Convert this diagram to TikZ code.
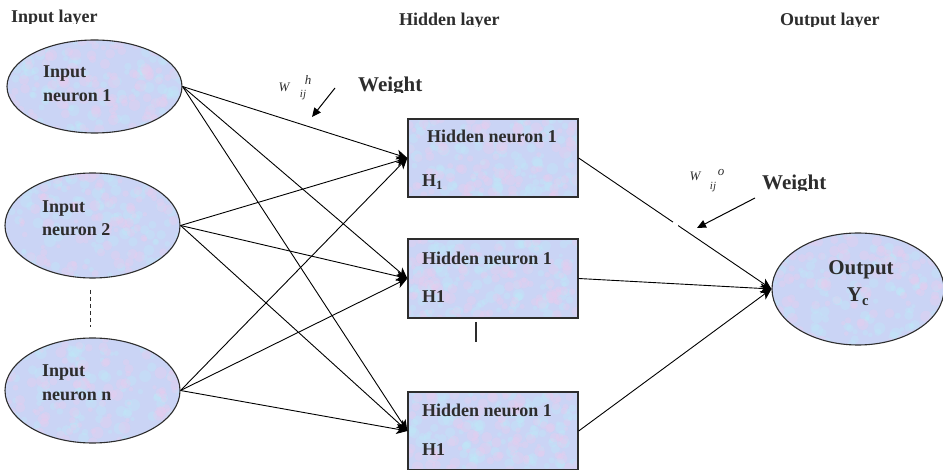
\documentclass[tikz,border=0pt]{standalone}
\usepackage{fontspec}
\setmainfont{Liberation Serif}
\usetikzlibrary{arrows.meta,shapes.geometric,calc}
\definecolor{tissue}{RGB}{202,212,245}
\definecolor{tpink}{RGB}{234,204,238}
\definecolor{tcyan}{RGB}{190,234,248}
\definecolor{ink}{RGB}{45,45,45}
\pgfmathsetseed{7}
\begin{document}
\begin{tikzpicture}[x=1pt,y=-1pt,
  % mottled paper fill for the neurons
  mottled/.style={fill=tissue,
    path picture={
      \path (path picture bounding box.south west) coordinate (tsw)
            (path picture bounding box.north east) coordinate (tne);
      \foreach \k in {1,...,110}{
        \path let \p1=(tsw), \p2=(tne) in
          [fill=tcyan,opacity=0.35]
          ({\x1+rnd*(\x2-\x1)},{\y1+rnd*(\y2-\y1)}) circle[radius={2pt+rnd*4pt}];
      }
      \foreach \k in {1,...,110}{
        \path let \p1=(tsw), \p2=(tne) in
          [fill=tpink,opacity=0.35]
          ({\x1+rnd*(\x2-\x1)},{\y1+rnd*(\y2-\y1)}) circle[radius={2pt+rnd*4pt}];
      }
    }},
  neuron/.style={ellipse,draw=ink,line width=1.1pt,mottled,inner sep=0pt},
  hidbox/.style={rectangle,draw=ink,line width=1.3pt,mottled,
    minimum width=170pt,minimum height=78pt,inner sep=0pt},
  txt/.style={font=\fontsize{18}{21}\bfseries\selectfont,inner sep=0pt,
    anchor=base west,text=ink},
  bigtxt/.style={font=\fontsize{21}{24}\bfseries\selectfont,inner sep=0pt,
    anchor=base west,text=ink},
  sym/.style={font=\fontsize{13}{15}\itshape\selectfont,inner sep=0pt,text=ink},
  conn/.style={draw=black,line width=0.9pt,-{Stealth[length=11pt,width=10pt,inset=3pt]}},
  pointer/.style={draw=black,line width=1pt,-{Triangle[length=9pt,width=8pt]}}
]
\useasboundingbox (0,0) rectangle (943,470);

% layer titles (clipped at the baseline)
\begin{scope}
  \clip (0,0) rectangle (943,24);
  \node[txt] (tin) at (11,23) {Input layer};
\end{scope}
\begin{scope}
  \clip (0,0) rectangle (943,27);
  \node[txt] (thid) at (399,26) {Hidden layer};
  \node[txt] (tout) at (780,26) {Output layer};
\end{scope}

% input neurons
\node[neuron,minimum width=175pt,minimum height=93pt] (in1) at (94.5,86.5) {};
\node[neuron,minimum width=175pt,minimum height=105pt] (in2) at (92.5,225.5) {};
\node[neuron,minimum width=175pt,minimum height=105pt] (inn) at (92.5,390.5) {};
\node[txt] (in1a) at (43,78) {Input};
\node[txt] (in1b) at (43,102) {neuron 1};
\node[txt] (in2a) at (42,213) {Input};
\node[txt] (in2b) at (42,236) {neuron 2};
\node[txt] (inna) at (42,377) {Input};
\node[txt] (innb) at (42,400) {neuron n};
\draw[ink,line width=1pt,dash pattern=on 4pt off 3pt] (90,290) -- (90,327);

% hidden neurons
\node[hidbox] (h1) at (493,158) {};
\node[hidbox,minimum height=79pt] (h2) at (493,278.5) {};
\node[hidbox] (h3) at (493,431) {};
\node[txt] (h1a) at (427,143) {Hidden neuron 1};
\node[txt] (h1b) at (422,187) {H\textsubscript{1}};
\node[txt] (h2a) at (422,265) {Hidden neuron 1};
\node[txt] (h2b) at (422,303) {H1};
\node[txt] (h3a) at (422,417) {Hidden neuron 1};
\node[txt] (h3b) at (422,455) {H1};
\draw[ink,line width=1.2pt] (476,322) -- (476,342);

% output neuron
\node[neuron,minimum width=172pt,minimum height=112pt] (out) at (858,289) {};
\node[bigtxt,anchor=base] (outa) at (861,275) {Output};
\node[bigtxt,anchor=base] (outb) at (858,302) {Y\textsubscript{c}};

% input -> hidden connections
\foreach \i in {in1,in2,inn}
  \foreach \h in {h1,h2,h3}
    \draw[conn] (\i.east) -- (\h.west);

% hidden -> output connections
\foreach \h in {h1,h2,h3}
  \draw[conn] (\h.east) -- (out.west);
\path (h1.east) -- (out.west) coordinate[pos=0.49] (g1) coordinate[pos=0.515] (g2);
\draw[white,line width=2.5pt] (g1) -- (g2);

% weight annotations
\node[sym] (w1) at (284,87) {W};
\node[sym,font=\fontsize{11}{12}\itshape\selectfont] (w1ij) at (303,95) {ij};
\node[sym] (w1h) at (308,80) {h};
\begin{scope}
  \clip (0,0) rectangle (943,93);
  \node[bigtxt] (wt1) at (358,92) {Weight};
\end{scope}
\coordinate (p1s) at (335,88);
\coordinate (p1t) at (312,117);
\draw[pointer] (p1s) -- (p1t);

\node[sym] (w2) at (695,176) {W};
\node[sym,font=\fontsize{11}{12}\itshape\selectfont] (w2ij) at (713,187) {ij};
\node[sym] (w2o) at (721,173) {o};
\begin{scope}
  \clip (0,0) rectangle (943,191);
  \node[bigtxt] (wt2) at (762,190) {Weight};
\end{scope}
\coordinate (p2s) at (755,198);
\coordinate (p2t) at (697,228);
\draw[pointer] (p2s) -- (p2t);
\end{tikzpicture}
\end{document}
